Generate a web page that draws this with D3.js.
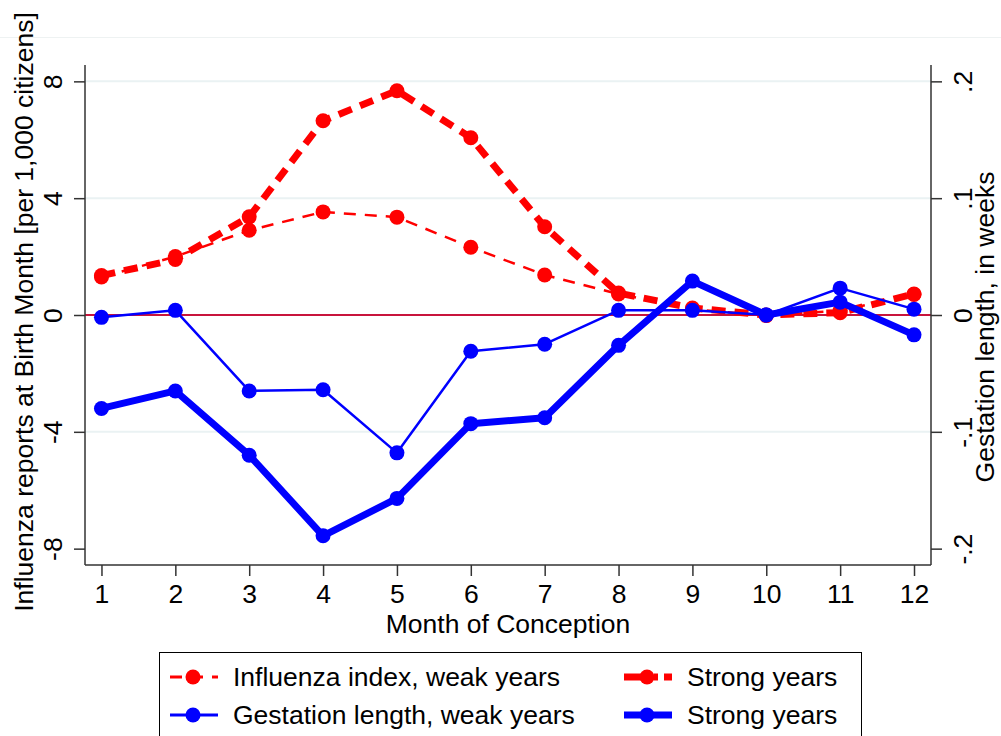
<!DOCTYPE html>
<html>
<head>
<meta charset="utf-8">
<script src="https://cdn.jsdelivr.net/npm/d3@7"></script>
<style>
  body { margin: 0; background: #fff; }
  svg { font-family: "Liberation Sans", Arial, sans-serif; }
</style>
</head>
<body>
<script>
// Data
var months = [1, 2, 3, 4, 5, 6, 7, 8, 9, 10, 11, 12]
var fluWeak = [1.30, 2.00, 2.90, 3.53, 3.35, 2.32, 1.37, 0.72, 0.20, -0.02, 0.15, 0.70]
var fluStrong = [1.35, 1.90, 3.36, 6.65, 7.68, 6.07, 3.02, 0.75, 0.24, 0.00, 0.08, 0.72]
var gestWeak = [-0.002, 0.004, -0.065, -0.064, -0.118, -0.031, -0.025, 0.004, 0.004, 0.000, 0.023, 0.005]
var gestStrong = [-0.080, -0.065, -0.120, -0.189, -0.157, -0.093, -0.088, -0.026, 0.029, 0.000, 0.011, -0.017]
var leftTicks = [-8, -4, 0, 4, 8]
var leftTickLabels = ["-8", "-4", "0", "4", "8"]
var rightTicks = [-0.2, -0.1, 0, 0.1, 0.2]
var rightTickLabels = ["-.2", "-.1", "0", ".1", ".2"]
var gridValues = [-4, 4, 8]

function main() {
    var width = 1001, height = 736
    var left = 85, right = 931, top = 65, bottom = 565
    var fs = 26.5

    var svg = d3.select('body').append('svg')
        .attr('width', width)
        .attr('height', height)

    // Scales
    var x = d3.scaleLinear().domain([0.777, 12.23]).range([left, right])
    var yL = d3.scaleLinear().domain([-8.56, 8.56]).range([bottom, top])
    var yR = d3.scaleLinear().domain([-0.214, 0.214]).range([bottom, top])

    // faint band line at top
    svg.append('line')
        .attr('x1', 0).attr('x2', width)
        .attr('y1', 37.5).attr('y2', 37.5)
        .attr('stroke', '#eef2f2').attr('stroke-width', 1)

    // grid lines
    svg.selectAll('.grid').data(gridValues).enter().append('line')
        .attr('class', 'grid')
        .attr('x1', left).attr('x2', right)
        .attr('y1', d => yL(d)).attr('y2', d => yL(d))
        .attr('stroke', '#eaf2f3').attr('stroke-width', 2)

    // zero line
    svg.append('line')
        .attr('x1', left).attr('x2', right)
        .attr('y1', yL(0)).attr('y2', yL(0))
        .attr('stroke', '#c8143c').attr('stroke-width', 2)

    // Axes
    var axisL = d3.axisLeft(yL).tickValues(leftTicks).tickSize(11)
        .tickFormat((d, i) => leftTickLabels[i])
    var gL = svg.append('g').attr('transform', `translate(${left},0)`).call(axisL)
    var axisR = d3.axisRight(yR).tickValues(rightTicks).tickSize(11)
        .tickFormat((d, i) => rightTickLabels[i])
    var gR = svg.append('g').attr('transform', `translate(${right},0)`).call(axisR)
    var axisB = d3.axisBottom(x).tickValues(months).tickSize(11).tickPadding(6)
    var gB = svg.append('g').attr('transform', `translate(0,${bottom})`).call(axisB)

    ;[gL, gR, gB].forEach(function(g) {
        g.select('.domain').attr('stroke', '#333').attr('stroke-width', 1.5)
        g.selectAll('.tick line').attr('stroke', '#333').attr('stroke-width', 1.5)
        g.selectAll('text').attr('font-size', fs).attr('fill', '#000')
            .attr('font-family', '"Liberation Sans", Arial, sans-serif')
    })
    gL.select('.domain').attr('d', `M0,${top}V${bottom}`)
    gR.select('.domain').attr('d', `M0,${top}V${bottom}`)
    gB.select('.domain').attr('d', `M${left},0H${right}`)

    // rotate y tick labels
    gL.selectAll('.tick text')
        .attr('transform', 'rotate(-90)')
        .attr('x', 0).attr('y', -32)
        .attr('dy', '0.35em')
        .attr('text-anchor', 'middle')
    gR.selectAll('.tick text')
        .attr('transform', 'rotate(-90)')
        .attr('x', 0).attr('y', 32)
        .attr('dy', '0.35em')
        .attr('text-anchor', 'middle')
    gB.selectAll('.tick text').attr('dy', '0.8em')

    // Axis titles
    svg.append('text')
        .attr('transform', `translate(33,${(top + bottom) / 2 - 3}) rotate(-90)`)
        .attr('text-anchor', 'middle')
        .attr('font-size', fs)
        .text('Influenza reports at Birth Month [per 1,000 citizens]')
    svg.append('text')
        .attr('transform', `translate(994,${(top + bottom) / 2 + 12}) rotate(-90)`)
        .attr('text-anchor', 'middle')
        .attr('font-size', fs)
        .text('Gestation length, in weeks')
    svg.append('text')
        .attr('x', (left + right) / 2)
        .attr('y', 633)
        .attr('text-anchor', 'middle')
        .attr('font-size', fs)
        .text('Month of Conception')

    // Series
    var series = [
        { vals: fluWeak, y: yL, color: '#ff0000', w: 2.5, dash: '12,9' },
        { vals: fluStrong, y: yL, color: '#ff0000', w: 7, dash: '14,9' },
        { vals: gestWeak, y: yR, color: '#0000ff', w: 2.5, dash: null },
        { vals: gestStrong, y: yR, color: '#0000ff', w: 7, dash: null }
    ]

    series.forEach(function(s) {
        var line = d3.line()
            .x((d, i) => x(months[i]))
            .y(d => s.y(d))
        svg.append('path')
            .datum(s.vals)
            .attr('d', line)
            .attr('fill', 'none')
            .attr('stroke', s.color)
            .attr('stroke-width', s.w)
            .attr('stroke-dasharray', s.dash)
            .attr('stroke-linejoin', 'round')
        svg.append('g').selectAll('circle')
            .data(s.vals)
            .enter().append('circle')
            .attr('cx', (d, i) => x(months[i]))
            .attr('cy', d => s.y(d))
            .attr('r', 7.5)
            .attr('fill', s.color)
    })

    // Legend
    var legend = svg.append('g')
    legend.append('rect')
        .attr('x', 159.5).attr('y', 652.5)
        .attr('width', 702).attr('height', 100)
        .attr('fill', '#fff').attr('stroke', '#000').attr('stroke-width', 1)

    var items = [
        { label: 'Influenza index, weak years', s: series[0], x: 170, y: 677 },
        { label: 'Strong years', s: series[1], x: 624, y: 677 },
        { label: 'Gestation length, weak years', s: series[2], x: 170, y: 715 },
        { label: 'Strong years', s: series[3], x: 624, y: 715 }
    ]
    items.forEach(function(it) {
        legend.append('line')
            .attr('x1', it.x).attr('x2', it.x + 48)
            .attr('y1', it.y).attr('y2', it.y)
            .attr('stroke', it.s.color)
            .attr('stroke-width', it.s.w > 5 ? it.s.w : 3)
            .attr('stroke-dasharray', it.s.dash ? (it.s.w > 5 ? '24,6,4,6' : '12,9') : null)
        legend.append('circle')
            .attr('cx', it.x + 23).attr('cy', it.y)
            .attr('r', 7.5).attr('fill', it.s.color)
        legend.append('text')
            .attr('x', it.x + 63).attr('y', it.y)
            .attr('dy', '0.35em')
            .attr('font-size', fs)
            .text(it.label)
    })
}
main()
</script>
</body>
</html>
